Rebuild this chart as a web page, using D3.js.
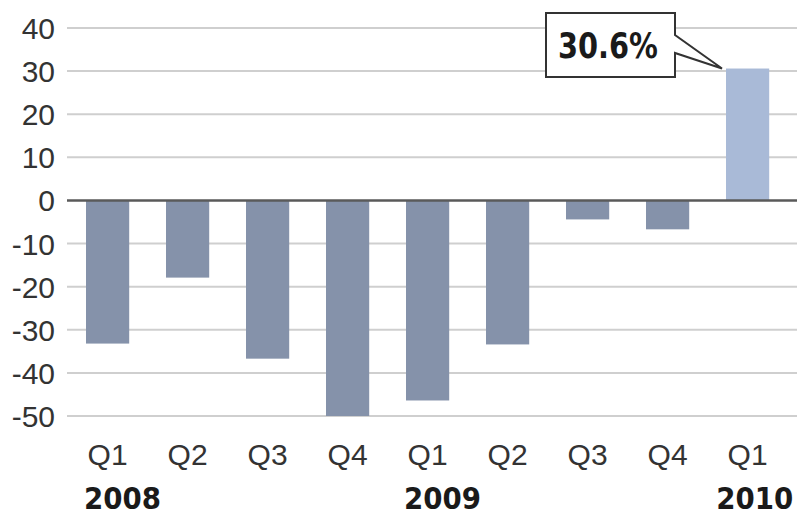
<!DOCTYPE html>
<html><head><meta charset="utf-8">
<script src="https://cdn.jsdelivr.net/npm/d3@7"></script>
<style>body{margin:0;background:#fff}svg{display:block}</style>
</head><body>
<svg id="c" width="801" height="517"></svg>
<script>
const quarters = ["Q1","Q2","Q3","Q4","Q1","Q2","Q3","Q4","Q1"];
const years = ["2008","2008","2008","2008","2009","2009","2009","2009","2010"];
const values = [-33.2,-17.9,-36.7,-50.0,-46.4,-33.4,-4.4,-6.7,30.6];
const yTicks = [40,30,20,10,0,-10,-20,-30,-40,-50];
const yearLabels = [{year:"2008", at:0, anchor:"start"},{year:"2009", at:4, anchor:"start"},{year:"2010", at:8, anchor:"end"}];
const callout = "30.6%";

const svg = d3.select("#c");
const ids = d3.range(values.length);
const x = d3.scaleBand().domain(ids).range([66, 789.2]).paddingInner(0.46).paddingOuter(0.25);
const y = d3.scaleLinear().domain([-50, 40]).range([416, 28]);
const font = "'Liberation Sans',Arial,sans-serif";
const bold = "'DejaVu Sans',sans-serif";

// grid
svg.append("g").selectAll("line").data(yTicks.filter(d=>d!==0)).join("line")
  .attr("x1",67).attr("x2",797).attr("y1",d=>y(d)).attr("y2",d=>y(d))
  .attr("stroke","#cfcfcf").attr("stroke-width",2);

// y labels
svg.append("g").selectAll("text").data(yTicks).join("text")
  .attr("x",55).attr("y",d=>y(d)+11).attr("text-anchor","end")
  .attr("font-family",font).attr("font-size",30).attr("fill","#333")
  .text(d=>d);

// bars
svg.append("g").selectAll("rect").data(ids).join("rect")
  .attr("x",i=>x(i)).attr("width",x.bandwidth())
  .attr("y",i=>y(Math.max(0,values[i]))).attr("height",i=>Math.abs(y(values[i])-y(0)))
  .attr("fill",i=>values[i]>=0?"#a9bad7":"#8592aa");

// zero line
svg.append("line").attr("x1",67).attr("x2",797).attr("y1",y(0)).attr("y2",y(0))
  .attr("stroke","#5a5a5a").attr("stroke-width",2.5);

// x labels
svg.append("g").selectAll("text").data(ids).join("text")
  .attr("x",i=>x(i)+x.bandwidth()/2).attr("y",465).attr("text-anchor","middle")
  .attr("font-family",font).attr("font-size",30).attr("fill","#333")
  .text(i=>quarters[i]);

svg.append("g").selectAll("text").data(yearLabels).join("text")
  .attr("x",d=>d.anchor==="start"? x(d.at)-2 : x(d.at)+x.bandwidth()+24)
  .attr("y",509).attr("text-anchor",d=>d.anchor)
  .attr("font-family",bold).attr("font-size",30).attr("font-weight","bold").attr("fill","#1a1a1a")
  .attr("textLength",77).attr("lengthAdjust","spacingAndGlyphs")
  .text(d=>d.year);

// callout
const last = values.length-1;
const tipX = x(last)-4, tipY = y(values[last]);
const bx0=546, bx1=675, by0=13, by1=77;
const path = `M${bx0},${by0}H${bx1}V35L${tipX},${tipY}L${bx1},53V${by1}H${bx0}Z`;
svg.append("path").attr("d",path).attr("fill","#fff").attr("stroke","#333").attr("stroke-width",2);
svg.append("text").attr("x",558).attr("y",58).attr("text-anchor","start")
  .attr("font-family",bold).attr("font-size",36).attr("font-weight","bold").attr("fill","#1a1a1a")
  .attr("textLength",100).attr("lengthAdjust","spacingAndGlyphs")
  .text(callout);
</script>
</body></html>
